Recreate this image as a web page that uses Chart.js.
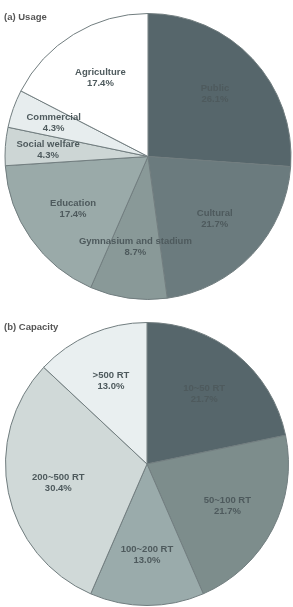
<!DOCTYPE html>
<html>
<head>
<meta charset="utf-8">
<script src="https://cdn.jsdelivr.net/npm/chart.js@4"></script>
<style>
  html, body { margin: 0; padding: 0; background: #fff; }
  body { width: 293px; height: 607px; position: relative; overflow: hidden; font-family: "Liberation Sans", Arial, sans-serif; }
  .title { position: absolute; left: 4px; font-size: 9.5px; font-weight: bold; color: #555; }
  .box { position: absolute; }
</style>
</head>
<body>
<div class="box" style="left:4px; top:13px; width:288px; height:287px;"><canvas id="usageChart"></canvas></div>
<div class="box" style="left:4px; top:322px; width:286px; height:284px;"><canvas id="capacityChart"></canvas></div>
<div class="title" style="top:11px;">(a) Usage</div>
<div class="title" style="top:321px;">(b) Capacity</div>
<script>
const usageLabels = ['Public', 'Cultural', 'Gymnasium and stadium', 'Education', 'Social welfare', 'Commercial', 'Agriculture'];
const usageValues = [26.1, 21.7, 8.7, 17.4, 4.3, 4.3, 17.4];
const usageColors = ['#56666b', '#6b7b7e', '#899998', '#9aaaa9', '#cdd6d5', '#e7edee', '#ffffff'];

const capacityLabels = ['10~50 RT', '50~100 RT', '100~200 RT', '200~500 RT', '>500 RT'];
const capacityValues = [21.7, 21.7, 13.0, 30.4, 13.0];
const capacityColors = ['#56666b', '#7d8d8c', '#9aabab', '#d0d9d8', '#e9eff0'];

// draws "name / xx.x%" inside each slice
const sliceLabels = {
  id: 'sliceLabels',
  afterDatasetsDraw(chart) {
    const ctx = chart.ctx;
    const meta = chart.getDatasetMeta(0);
    const values = chart.data.datasets[0].data;
    ctx.save();
    ctx.font = 'bold 9.5px "Liberation Sans", Arial, sans-serif';
    ctx.fillStyle = '#4e5a5d';
    ctx.textAlign = 'center';
    ctx.textBaseline = 'middle';
    meta.data.forEach((arc, i) => {
      const p = arc.getProps(['x', 'y', 'startAngle', 'endAngle', 'outerRadius'], true);
      const mid = (p.startAngle + p.endAngle) / 2;
      const frac = values[i] < 5 ? 0.7 : 0.64;
      const x = p.x + Math.cos(mid) * p.outerRadius * frac;
      const y = p.y + Math.sin(mid) * p.outerRadius * frac;
      ctx.fillText(chart.data.labels[i], x, y - 5.5);
      ctx.fillText(values[i].toFixed(1) + '%', x, y + 5.5);
    });
    ctx.restore();
  }
};

function makePie(id, labels, values, colors) {
  return new Chart(document.getElementById(id), {
    type: 'pie',
    data: {
      labels: labels,
      datasets: [{
        data: values,
        backgroundColor: colors,
        borderColor: '#717d7f',
        borderWidth: 1
      }]
    },
    options: {
      responsive: true,
      maintainAspectRatio: false,
      animation: false,
      layout: { padding: 0 },
      plugins: {
        legend: { display: false },
        tooltip: { enabled: false }
      }
    },
    plugins: [sliceLabels]
  });
}

makePie('usageChart', usageLabels, usageValues, usageColors);
makePie('capacityChart', capacityLabels, capacityValues, capacityColors);
</script>
</body>
</html>
